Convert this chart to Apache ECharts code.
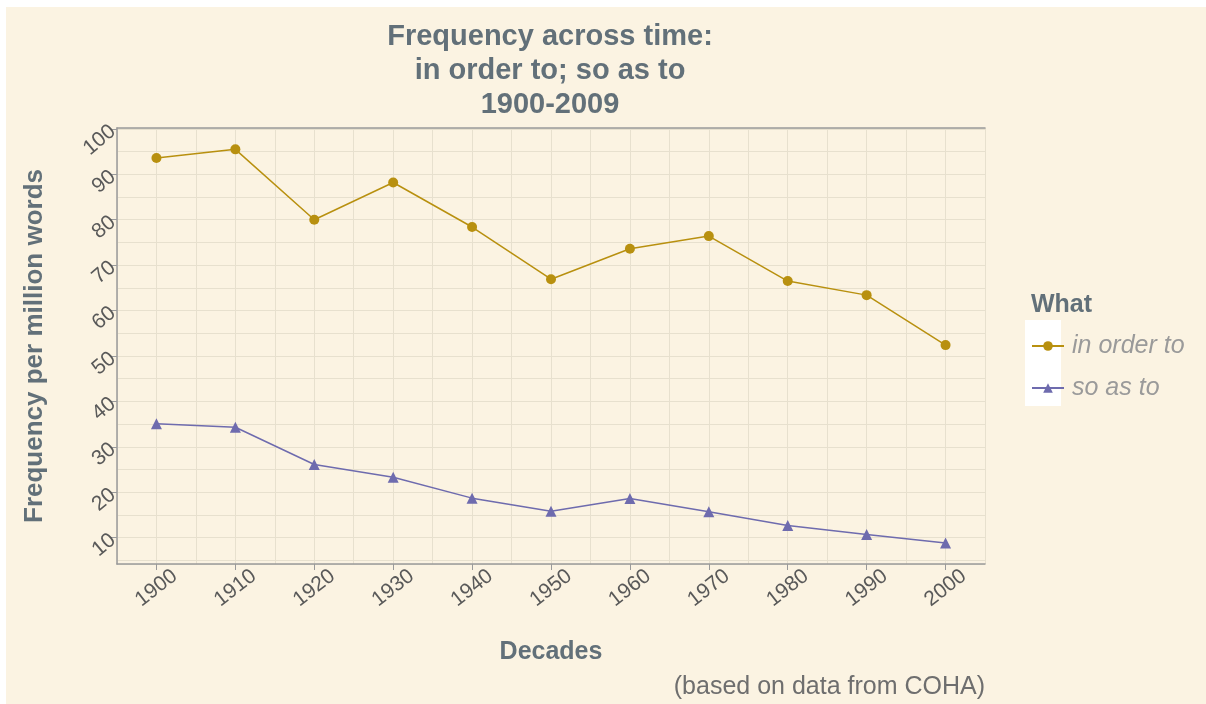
<!DOCTYPE html>
<html>
<head>
<meta charset="utf-8">
<title>Frequency across time</title>
<script src="https://cdn.jsdelivr.net/npm/echarts@6/dist/echarts.min.js"></script>
<style>
  html, body { margin: 0; padding: 0; background: #ffffff; }
  #chart { width: 1206px; height: 704px; }
</style>
</head>
<body>
<div id="chart"></div>
<script>
// values
const decades = [1900, 1910, 1920, 1930, 1940, 1950, 1960, 1970, 1980, 1990, 2000]
const inOrderTo = [93.6, 95.5, 80.0, 88.2, 78.4, 66.9, 73.6, 76.4, 66.5, 63.4, 52.4]
const soAsTo = [35.1, 34.3, 26.1, 23.3, 18.7, 15.8, 18.6, 15.7, 12.7, 10.7, 8.8]
const yTicks = [10, 20, 30, 40, 50, 60, 70, 80, 90, 100]
const seriesNames = ['in order to', 'so as to']

const bg = '#FBF3E2'
const gridColor = '#E7E0CE'
const axisColor = '#9A9A9A'
const labelColor = '#595959'
const titleColor = '#627079'
const font = 'Liberation Sans, Arial, sans-serif'

const chart = echarts.init(document.getElementById('chart'))

const pair = (xs, ys) => xs.map((x, i) => [x, ys[i]])

const option = {
  backgroundColor: bg,
  animation: false,
  textStyle: { fontFamily: font },
  title: [
    {
      text: 'Frequency across time:\nin order to; so as to\n1900-2009',
      left: 545,
      top: 15,
      textAlign: 'center',
      textStyle: { fontSize: 29, fontWeight: 'bold', color: titleColor, lineHeight: 34, fontFamily: font }
    },
    {
      text: '(based on data from COHA)',
      left: 980,
      top: 670,
      textAlign: 'right',
      textStyle: { fontSize: 25, fontWeight: 'normal', color: '#6E6E6E', fontFamily: font }
    },
    {
      text: 'What',
      left: 1026,
      top: 288,
      textStyle: { fontSize: 25, fontWeight: 'bold', color: titleColor, fontFamily: font }
    }
  ],
  legend: {
    orient: 'vertical',
    left: 1026,
    top: 326,
    itemWidth: 32,
    itemHeight: 12,
    itemGap: 12,
    data: seriesNames,
    textStyle: {
      fontSize: 25,
      fontStyle: 'italic',
      color: '#9A9A9A',
      lineHeight: 30,
      padding: [0, 0, 0, 3],
      fontFamily: font
    }
  },
  graphic: [
    // white strips along the top and left edge of the picture
    { type: 'rect', shape: { x: 0, y: 0, width: 1206, height: 7 }, style: { fill: '#ffffff' }, z: 100 },
    { type: 'rect', shape: { x: 0, y: 0, width: 6, height: 704 }, style: { fill: '#ffffff' }, z: 100 },
    // legend key panel
    { type: 'rect', shape: { x: 1025, y: 320, width: 36, height: 86 }, style: { fill: '#FFFFFF' }, z: -1 }
  ],
  grid: {
    left: 117,
    right: 221,
    top: 128,
    bottom: 140
  },
  xAxis: [
    {
      // grid lines every 5 years + top border
      type: 'value',
      min: 1895,
      max: 2005,
      splitNumber: 22,
      position: 'top',
      axisLine: { show: true, lineStyle: { color: axisColor, width: 1.5 } },
      axisTick: { show: false },
      axisLabel: { show: false },
      splitLine: { show: true, lineStyle: { color: gridColor, width: 1 } }
    },
    {
      type: 'value',
      min: 1895,
      max: 2005,
      splitNumber: 11,
      position: 'bottom',
      name: 'Decades',
      nameLocation: 'middle',
      nameGap: 76,
      nameTextStyle: { fontSize: 25, fontWeight: 'bold', color: titleColor, fontFamily: font },
      axisLine: { show: true, onZero: false, lineStyle: { color: axisColor, width: 1.5 } },
      axisTick: { show: true, length: 6, customValues: decades, lineStyle: { color: axisColor } },
      axisLabel: {
        customValues: decades,
        rotate: 38,
        align: 'center',
        verticalAlign: 'middle',
        fontSize: 21,
        color: labelColor,
        margin: 24,
        formatter: v => String(v)
      },
      splitLine: { show: false }
    }
  ],
  yAxis: [
    {
      // grid lines every 5 units
      type: 'value',
      min: 4.2,
      max: 100.2,
      splitNumber: 20,
      position: 'right',
      axisLine: { show: false },
      axisTick: { show: false },
      axisLabel: { show: false },
      splitLine: { show: true, lineStyle: { color: gridColor, width: 1 } }
    },
    {
      type: 'value',
      min: 4.2,
      max: 100.2,
      splitNumber: 10,
      position: 'left',
      name: 'Frequency per million words',
      nameLocation: 'middle',
      nameGap: 69,
      nameTextStyle: { fontSize: 26, fontWeight: 'bold', color: titleColor, fontFamily: font },
      axisLine: { show: true, onZero: false, lineStyle: { color: axisColor, width: 1.5 } },
      axisTick: { show: true, length: 6, customValues: yTicks, lineStyle: { color: axisColor } },
      axisLabel: {
        customValues: yTicks,
        rotate: 40,
        fontSize: 21,
        color: labelColor,
        margin: 4,
        padding: [0, 0, 12, 0]
      },
      splitLine: { show: false }
    }
  ],
  series: [
    {
      name: seriesNames[0],
      type: 'line',
      xAxisIndex: 1,
      yAxisIndex: 1,
      data: pair(decades, inOrderTo),
      symbol: 'circle',
      symbolSize: 10,
      color: '#B8900F',
      lineStyle: { width: 1.5, color: '#B8900F' },
      itemStyle: { color: '#B8900F' }
    },
    {
      name: seriesNames[1],
      type: 'line',
      xAxisIndex: 1,
      yAxisIndex: 1,
      data: pair(decades, soAsTo),
      symbol: 'triangle',
      symbolSize: 11,
      color: '#6E6BAE',
      lineStyle: { width: 1.5, color: '#6E6BAE' },
      itemStyle: { color: '#6E6BAE' }
    }
  ]
}

chart.setOption(option)
</script>
</body>
</html>
